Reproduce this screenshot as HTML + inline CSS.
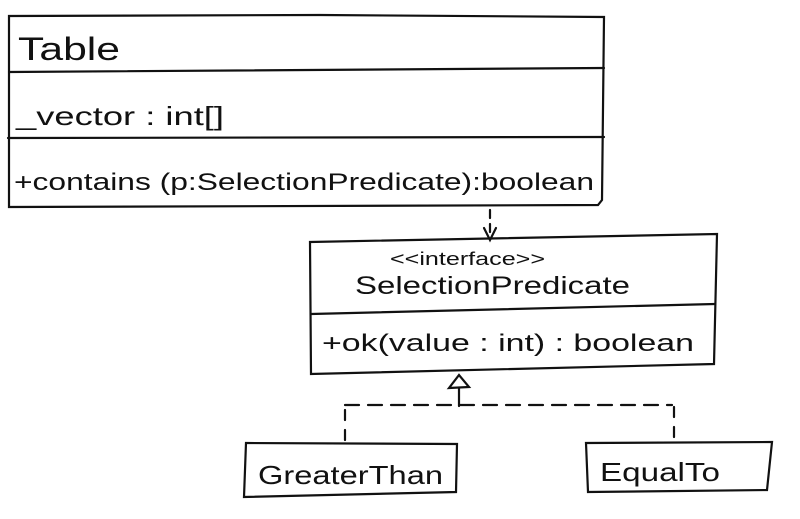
<!DOCTYPE html>
<html><head><style>
html,body{margin:0;padding:0;background:#fff;}
svg{display:block;}
text{font-family:"Liberation Sans",sans-serif;fill:#111;}
</style></head><body>
<svg width="800" height="519" viewBox="0 0 800 519" xmlns="http://www.w3.org/2000/svg">
<g stroke="#111" stroke-width="2.2" fill="none" stroke-linecap="round">
<path d="M9,16 L320,15 L604,17 L602,200 L598,205 L9,207 Z"/>
<path d="M9,72 L604,68"/>
<path d="M8,138 L604,137"/>
<path d="M490,210 L490,238" stroke-dasharray="8,6"/>
<path d="M484,228 L490,240 L496,228"/>
<path d="M310,242 L717,234 L714,364 L311,374 Z"/>
<path d="M311,314 L715,304"/>
<path d="M449,388 L459,375 L469,387 Z"/>
<path d="M459,388 L459,406"/>
<path d="M345,405 L672,405" stroke-dasharray="14,9"/>
<path d="M345,410 L345,440" stroke-dasharray="10,10"/>
<path d="M674,407 L674,442" stroke-dasharray="10,10"/>
<path d="M246,443 L457,444 L456,492 L244,497 Z"/>
<path d="M586,443 L772,442 L767,490 L588,492 Z"/>
</g>
<text x="18" y="60" font-size="32" textLength="102" lengthAdjust="spacingAndGlyphs">Table</text>
<text x="16" y="125" font-size="26" textLength="208" lengthAdjust="spacingAndGlyphs">_vector : int[]</text>
<text x="14" y="190" font-size="24" textLength="580" lengthAdjust="spacingAndGlyphs">+contains (p:SelectionPredicate):boolean</text>
<text x="390" y="265" font-size="18" textLength="155" lengthAdjust="spacingAndGlyphs">&lt;&lt;interface&gt;&gt;</text>
<text x="355" y="294" font-size="25" textLength="275" lengthAdjust="spacingAndGlyphs">SelectionPredicate</text>
<text x="322" y="351" font-size="24" textLength="372" lengthAdjust="spacingAndGlyphs">+ok(value : int) : boolean</text>
<text x="258" y="484" font-size="26" textLength="185" lengthAdjust="spacingAndGlyphs">GreaterThan</text>
<text x="600" y="481" font-size="26" textLength="120" lengthAdjust="spacingAndGlyphs">EqualTo</text>
</svg>
</body></html>
